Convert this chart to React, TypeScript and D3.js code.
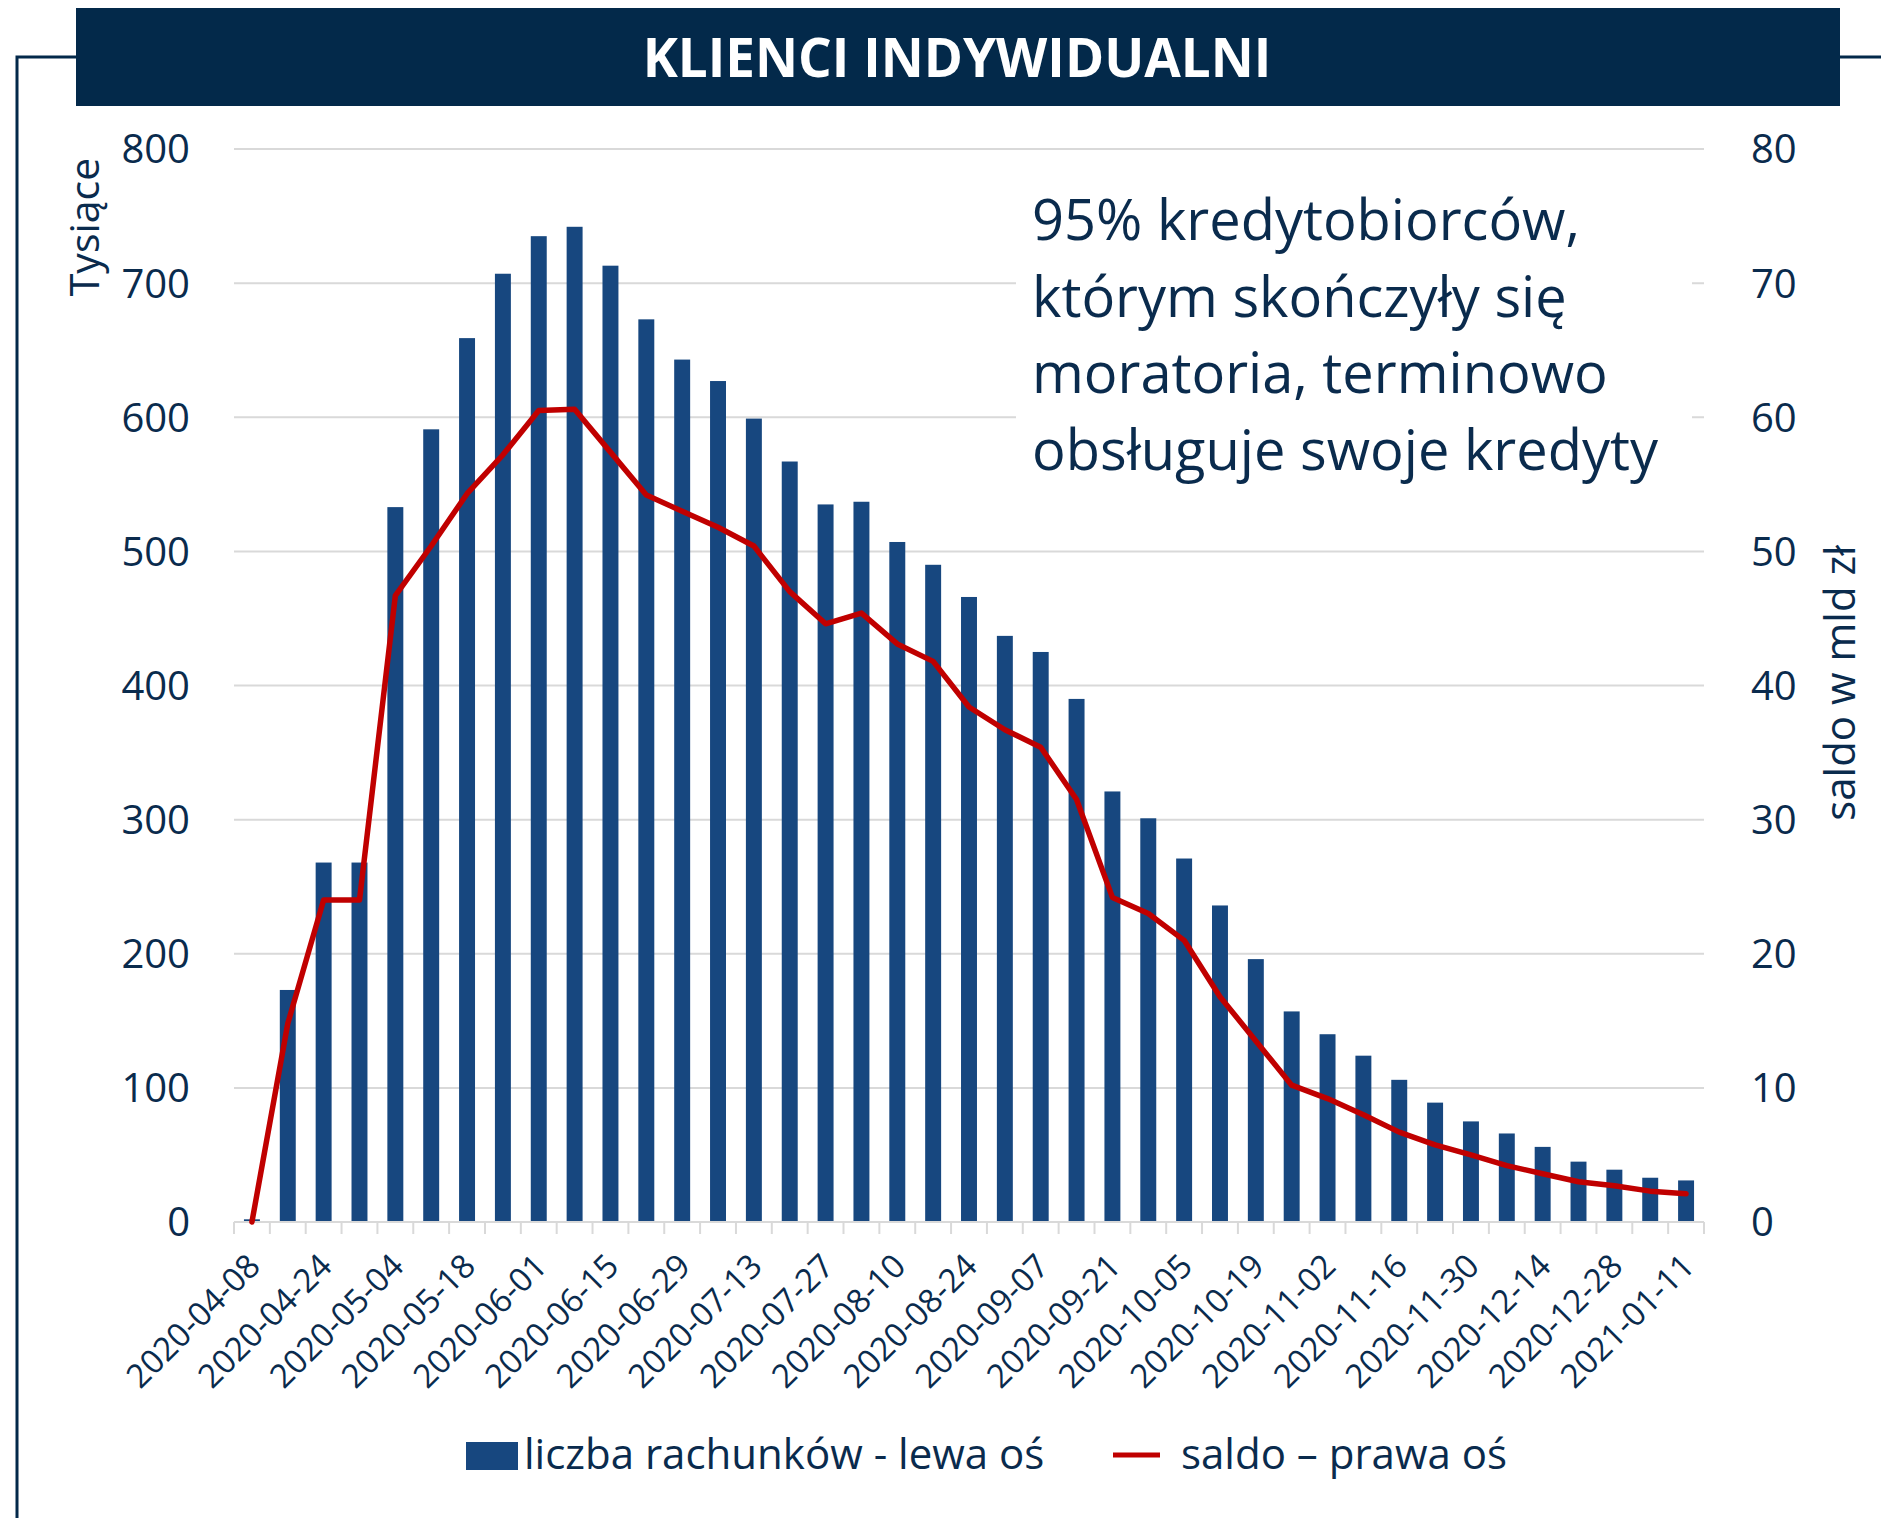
import React from "react";
import * as d3 from "d3";

// Categories: reporting dates (every second one is labelled on the axis)
const dates = [
  "2020-04-08", "2020-04-16", "2020-04-24", "2020-04-30", "2020-05-04", "2020-05-11",
  "2020-05-18", "2020-05-25", "2020-06-01", "2020-06-08", "2020-06-15", "2020-06-22",
  "2020-06-29", "2020-07-06", "2020-07-13", "2020-07-20", "2020-07-27", "2020-08-03",
  "2020-08-10", "2020-08-17", "2020-08-24", "2020-08-31", "2020-09-07", "2020-09-14",
  "2020-09-21", "2020-09-28", "2020-10-05", "2020-10-12", "2020-10-19", "2020-10-26",
  "2020-11-02", "2020-11-09", "2020-11-16", "2020-11-23", "2020-11-30", "2020-12-07",
  "2020-12-14", "2020-12-21", "2020-12-28", "2021-01-04", "2021-01-11",
];

// Number of accounts under moratorium, thousands (left axis)
const accounts = [
  2, 173, 268, 268, 533, 591, 659, 707, 735, 742, 713, 673, 643, 627, 599, 567, 535,
  537, 507, 490, 466, 437, 425, 390, 321, 301, 271, 236, 196, 157, 140, 124, 106, 89,
  75, 66, 56, 45, 39, 33, 31,
];

// Outstanding balance, PLN bn (right axis)
const balance = [
  0, 14.8, 24.0, 24.0, 46.7, 50.4, 54.3, 57.2, 60.5, 60.6, 57.4, 54.2, 53.0, 51.8,
  50.4, 47.0, 44.6, 45.4, 43.1, 41.8, 38.4, 36.7, 35.4, 31.5, 24.2, 23.0, 21.0, 16.8,
  13.5, 10.2, 9.2, 8.0, 6.7, 5.75, 5.0, 4.2, 3.6, 3.0, 2.7, 2.3, 2.1,
];

const leftTicks = [0, 100, 200, 300, 400, 500, 600, 700, 800];
const rightTicks = [0, 10, 20, 30, 40, 50, 60, 70, 80];

const noteLines = [
  "95% kredytobiorców,",
  "którym skończyły się",
  "moratoria, terminowo",
  "obsługuje swoje kredyty",
];

const W = 1881;
const H = 1518;
const NAVY = "#03294a";
const TEXT = "#0a2b4d";
const BAR = "#17477f";
const RED = "#c00000";
const GRID = "#d9d9d9";
const FONT = "'Open Sans', 'Noto Sans', sans-serif";

export default function App() {
  const left = 234;
  const right = 1704;
  const top = 149;
  const bottom = 1222;

  const bandFrac = 0.555;
  const x = d3
    .scaleBand<string>()
    .domain(dates)
    .range([left, right])
    .paddingInner(bandFrac)
    .paddingOuter(bandFrac / 2);
  const bw = x.bandwidth();
  const step = x.step();
  const cx = (d: string) => (x(d) as number) + bw / 2;

  const yL = d3.scaleLinear().domain([0, 800]).range([bottom, top]);
  const yR = d3.scaleLinear().domain([0, 80]).range([bottom, top]);

  const line = d3
    .line<number>()
    .x((_, i) => cx(dates[i]))
    .y((v) => yR(v));

  const boundaries = d3.range(dates.length + 1).map((i) => left + i * step);

  return (
    <svg
      width={W}
      height={H}
      viewBox={`0 0 ${W} ${H}`}
      style={{ position: "absolute", left: 0, top: 0, background: "#fff" }}
      fontFamily={FONT}
    >
      <rect x={0} y={0} width={W} height={H} fill="#fff" />

      {/* frame lines */}
      <path d={`M17,${H} V57 H80`} fill="none" stroke={NAVY} strokeWidth={3} />
      <path d={`M1836,57 H${W}`} fill="none" stroke={NAVY} strokeWidth={3} />

      {/* title bar */}
      <rect x={76} y={8} width={1764} height={98} fill={NAVY} />
      <text
        x={957}
        y={77}
        textAnchor="middle"
        fill="#fff"
        fontSize={53}
        fontWeight={700}
      >
        KLIENCI INDYWIDUALNI
      </text>

      {/* gridlines */}
      {leftTicks.map((t) => (
        <line
          key={"g" + t}
          x1={left}
          x2={right}
          y1={yL(t)}
          y2={yL(t)}
          stroke={GRID}
          strokeWidth={2}
        />
      ))}

      {/* bars */}
      {dates.map((d, i) => (
        <rect
          key={"b" + d}
          x={x(d)}
          y={yL(accounts[i])}
          width={bw}
          height={bottom - yL(accounts[i])}
          fill={BAR}
        />
      ))}

      {/* category axis */}
      <line x1={left} x2={right} y1={bottom} y2={bottom} stroke={GRID} strokeWidth={2} />
      {boundaries.map((bx, i) => (
        <line
          key={"t" + i}
          x1={bx}
          x2={bx}
          y1={bottom}
          y2={bottom + 12}
          stroke={GRID}
          strokeWidth={2}
        />
      ))}

      {/* balance line */}
      <path
        d={line(balance) as string}
        fill="none"
        stroke={RED}
        strokeWidth={5.5}
        strokeLinejoin="round"
        strokeLinecap="round"
      />

      {/* note box */}
      <rect x={1016} y={170} width={676} height={330} fill="#fff" />
      <text fill={TEXT} fontSize={56}>
        {noteLines.map((l, i) => (
          <tspan key={l} x={1032} y={240 + i * 76.7}>
            {l}
          </tspan>
        ))}
      </text>

      {/* left axis labels */}
      {leftTicks.map((t) => (
        <text
          key={"l" + t}
          x={190}
          y={yL(t)}
          dy="0.36em"
          textAnchor="end"
          fill={TEXT}
          fontSize={40}
        >
          {t}
        </text>
      ))}

      {/* right axis labels */}
      {rightTicks.map((t) => (
        <text
          key={"r" + t}
          x={1751}
          y={yR(t)}
          dy="0.36em"
          textAnchor="start"
          fill={TEXT}
          fontSize={40}
        >
          {t}
        </text>
      ))}

      {/* axis titles */}
      <text
        transform={`translate(84,227) rotate(-90)`}
        textAnchor="middle"
        dy="0.36em"
        fill={TEXT}
        fontSize={41}
      >
        Tysiące
      </text>
      <text
        transform={`translate(1840,683) rotate(-90)`}
        textAnchor="middle"
        dy="0.36em"
        fill={TEXT}
        fontSize={42}
      >
        saldo w mld zł
      </text>

      {/* category labels */}
      {dates.map((d, i) =>
        i % 2 === 0 ? (
          <text
            key={"x" + d}
            transform={`translate(${cx(d) + 2},${bottom + 38}) rotate(-45)`}
            textAnchor="end"
            dy="0.35em"
            fill={TEXT}
            fontSize={33}
          >
            {d}
          </text>
        ) : null
      )}

      {/* legend */}
      <rect x={466} y={1442} width={52} height={28} fill={BAR} />
      <text x={524} y={1469} fill={TEXT} fontSize={42}>
        liczba rachunków - lewa oś
      </text>
      <line x1={1113} x2={1160} y1={1455} y2={1455} stroke={RED} strokeWidth={5} />
      <text x={1181} y={1469} fill={TEXT} fontSize={42}>
        saldo – prawa oś
      </text>
    </svg>
  );
}
